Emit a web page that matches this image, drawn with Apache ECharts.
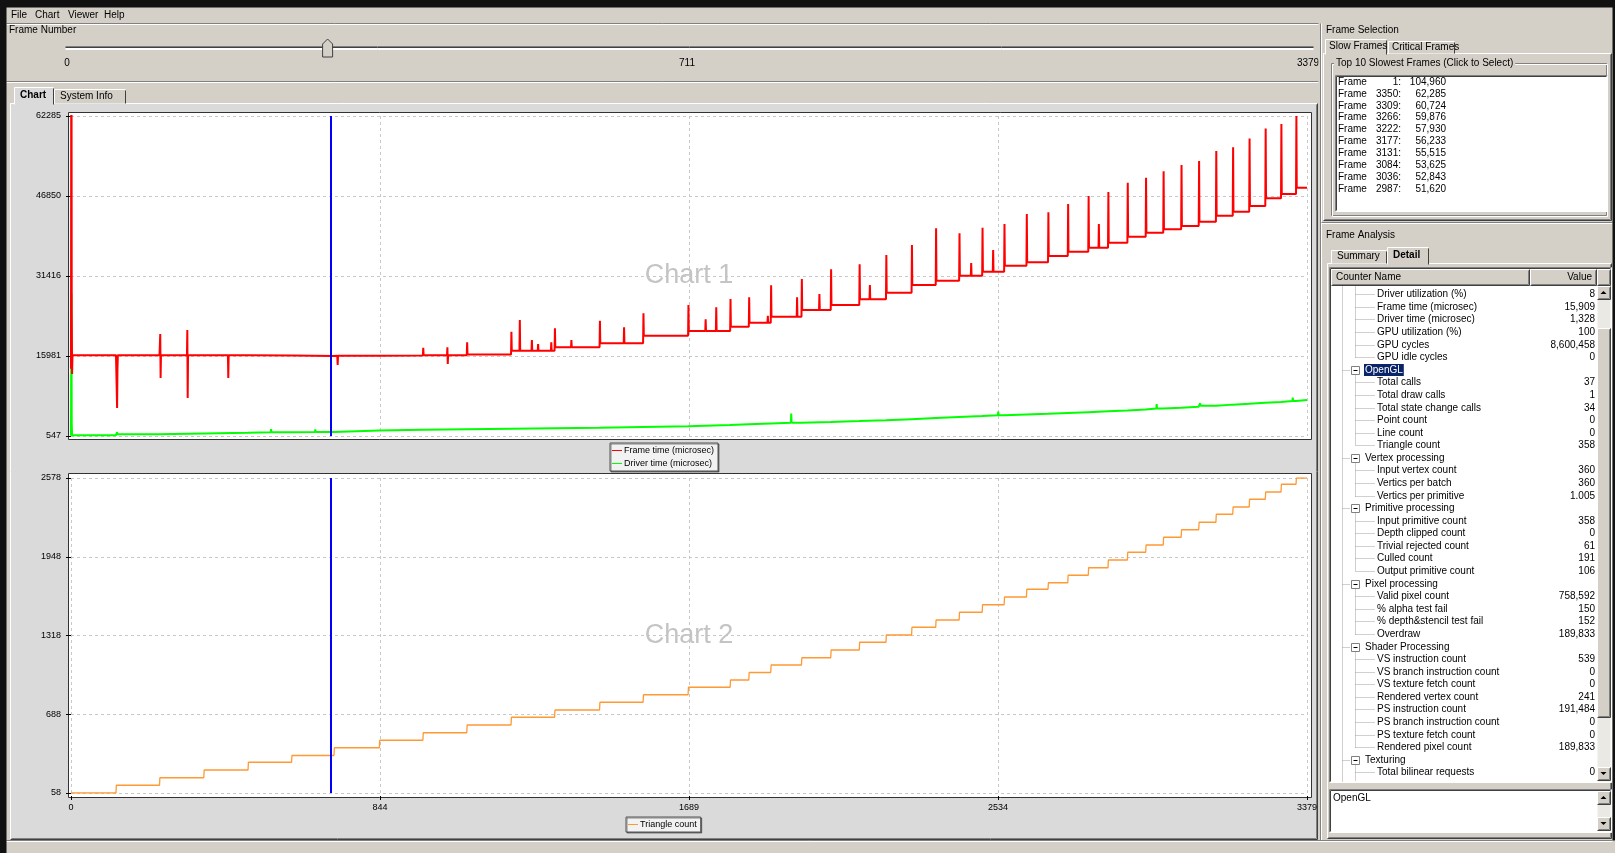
<!DOCTYPE html>
<html>
<head>
<meta charset="utf-8">
<title>Frame Analyzer</title>
<script src="https://cdn.jsdelivr.net/npm/echarts@6/dist/echarts.min.js"></script>
<style>
  html, body { margin: 0; padding: 0; background: #d4d0c8; }
  #main { width: 1615px; height: 853px; }
</style>
</head>
<body>
<div id="main"></div>
<script>
// ---- values ----
var lastFrame = 3379;
var selectedFrame = 711;

// frames where the triangle count steps up (frame time jumps there too)
var stepFrames = [0, 124, 243, 364, 485, 604, 720, 844, 963, 1083, 1204, 1323, 1446, 1565, 1688, 1803, 1854, 1914, 1998, 2078,
  2156, 2229, 2299, 2365, 2429, 2492, 2552, 2613, 2672, 2726, 2782, 2836, 2889, 2939, 2987, 3036, 3084, 3131, 3177, 3222,
  3266, 3309, 3350];
var triangleCounts = [58, 120, 180, 242, 304, 358, 420, 480, 540, 602, 664, 722, 784, 844, 904, 962, 1022, 1082, 1140, 1202,
  1264, 1322, 1384, 1442, 1504, 1564, 1626, 1688, 1740, 1800, 1860, 1922, 1984, 2042, 2104, 2164, 2224, 2288, 2346, 2408,
  2466, 2528, 2578];
var frameTimeLevels = [16150, 16150, 16150, 16150, 16100, 16000, 16050, 16100, 16150, 16250, 17000, 17660, 18430, 19900, 20800, 21630, 22400, 23560, 24850, 25820,
  26920, 28190, 29670, 30500, 31470, 32240, 33400, 34050, 35270, 36100, 36870, 37840, 38990, 39760, 40420, 41060, 41890, 43040, 43820, 44920,
  46400, 47230, 48440];
var driverTimeLevels = [700, 900, 1050, 1150, 1250, 1328, 1600, 1750, 1850, 1950, 2050, 2150, 2300, 2450, 2650, 2800, 2950, 3100, 3250, 3420,
  3600, 3800, 4000, 4200, 4400, 4550, 4700, 4850, 5000, 5150, 5300, 5450, 5650, 5850, 6000, 6200, 6400, 6600, 6750, 6950,
  7100, 7300, 7490];

// single frame spikes / dips
var frameSpikeFrames = [0, 1, 2, 3, 126, 127, 244, 245, 318, 319, 430, 729, 963, 1029, 1030, 1083, 1204, 1227, 1260, 1277,
  1313, 1323, 1368, 1446, 1512, 1565, 1688, 1735, 1764, 1803, 1854, 1905, 1914, 1985, 1998, 2046, 2078, 2156, 2184, 2229,
  2299, 2365, 2429, 2461, 2492, 2521, 2552, 2613, 2672, 2726, 2782, 2810, 2836, 2889, 2939, 2987, 3036, 3084, 3131, 3177,
  3222, 3266, 3309, 3350];
var frameSpikeValues = [13500, 104960, 25000, 12500, 5950, 13300, 20220, 11740, 20990, 7880, 11740, 14240, 17580, 17660, 14440, 18620, 20670, 22920, 19070, 18300,
  18620, 21320, 19070, 22790, 21520, 24220, 25820, 23060, 25370, 26980, 27300, 23750, 29620, 27300, 30830, 27940, 32700, 33670, 29670, 35460,
  37390, 40610, 39650, 33920, 40730, 36430, 41440, 43370, 43700, 45300, 46840, 41440, 47610, 49410, 50370, 51620, 52843, 53625, 55515, 56233,
  57930, 59876, 60724, 62285];
var driverSpikeFrames = [0, 1, 2, 126, 547, 668, 1969, 2535, 2968, 3087, 3340];
var driverSpikeValues = [600, 28000, 3000, 1300, 1900, 1800, 4900, 5230, 6720, 6900, 7930];

var slowFrameIds = [1, 3350, 3309, 3266, 3222, 3177, 3131, 3084, 3036, 2987];
var slowFrameTimes = ['104,960', '62,285', '60,724', '59,876', '57,930', '56,233', '55,515', '53,625', '52,843', '51,620'];

var counterNames = ['Driver utilization (%)', 'Frame time (microsec)', 'Driver time (microsec)', 'GPU utilization (%)', 'GPU cycles',
  'GPU idle cycles', 'OpenGL', 'Total calls', 'Total draw calls', 'Total state change calls', 'Point count', 'Line count',
  'Triangle count', 'Vertex processing', 'Input vertex count', 'Vertics per batch', 'Vertics per primitive', 'Primitive processing',
  'Input primitive count', 'Depth clipped count', 'Trivial rejected count', 'Culled count', 'Output primitive count', 'Pixel processing',
  'Valid pixel count', '% alpha test fail', '% depth&stencil test fail', 'Overdraw', 'Shader Processing', 'VS instruction count',
  'VS branch instruction count', 'VS texture fetch count', 'Rendered vertex count', 'PS instruction count', 'PS branch instruction count',
  'PS texture fetch count', 'Rendered pixel count', 'Texturing', 'Total bilinear requests'];
// null = group node
var counterValues = ['8', '15,909', '1,328', '100', '8,600,458', '0', null, '37', '1', '34', '0', '0', '358', null, '360', '360',
  '1.005', null, '358', '0', '61', '191', '106', null, '758,592', '150', '152', '189,833', null, '539', '0', '0', '241', '191,484',
  '0', '0', '189,833', null, '0'];

// levels per step segment, with spikes dropped in as single frames
function buildLine(levels, spikeF, spikeV) {
  var pts = [];
  for (var i = 0; i < stepFrames.length; i++) {
    var s = stepFrames[i];
    var e = i + 1 < stepFrames.length ? stepFrames[i + 1] : lastFrame + 1;
    var lvl = levels[i];
    var sp = [];
    for (var k = 0; k < spikeF.length; k++) {
      if (spikeF[k] >= s && spikeF[k] < e) sp.push([spikeF[k], spikeV[k]]);
    }
    sp.sort(function (a, b) { return a[0] - b[0]; });
    if (!sp.length || sp[0][0] !== s) pts.push([s, lvl]);
    for (var j = 0; j < sp.length; j++) {
      var f = sp[j][0];
      var prev = pts.length ? pts[pts.length - 1][0] : -1;
      if (f - 1 > prev) pts.push([f - 1, lvl]);
      pts.push(sp[j]);
      var next = sp[j + 1];
      if (f + 1 < e && !(next && next[0] === f + 1)) pts.push([f + 1, lvl]);
    }
    if (pts[pts.length - 1][0] < e - 1) pts.push([e - 1, lvl]);
  }
  return pts;
}

// ---- window chrome (graphic elements) ----
var FONT = '"Liberation Sans", Arial, sans-serif';
var G = [];
function box(x, y, w, h, fill, stroke, z) {
  G.push({ type: 'rect', z: z, silent: true, shape: { x: x + 0.5, y: y + 0.5, width: w, height: h },
    style: { fill: fill || 'none', stroke: stroke || null, lineWidth: 1 } });
}
function seg(x1, y1, x2, y2, color, z, dash) {
  G.push({ type: 'line', z: z, silent: true, shape: { x1: x1 + 0.5, y1: y1 + 0.5, x2: x2 + 0.5, y2: y2 + 0.5 },
    style: { stroke: color, lineWidth: 1, lineDash: dash || null } });
}
function label(x, y, str, z, opt) {
  opt = opt || {};
  G.push({ type: 'text', z: z, silent: true, x: x, y: y, style: {
    text: str, fill: opt.color || '#000',
    font: (opt.bold ? 'bold ' : '') + (opt.size || 10) + 'px ' + FONT,
    align: opt.align || 'left', verticalAlign: 'middle',
    backgroundColor: opt.bg || null, padding: opt.pad || 0 } });
}
function raised(x, y, w, h, z, fill) {
  if (fill) box(x, y, w, h, fill, null, z);
  seg(x, y, x + w, y, '#ffffff', z); seg(x, y, x, y + h, '#ffffff', z);
  seg(x, y + h, x + w, y + h, '#404040', z); seg(x + w, y, x + w, y + h, '#404040', z);
  seg(x + 1, y + h - 1, x + w - 1, y + h - 1, '#808080', z); seg(x + w - 1, y + 1, x + w - 1, y + h - 1, '#808080', z);
}
function sunken(x, y, w, h, z, fill) {
  if (fill) box(x, y, w, h, fill, null, z);
  seg(x, y, x + w, y, '#808080', z); seg(x, y, x, y + h, '#808080', z);
  seg(x + 1, y + 1, x + w - 1, y + 1, '#404040', z); seg(x + 1, y + 1, x + 1, y + h - 1, '#404040', z);
  seg(x, y + h, x + w, y + h, '#ffffff', z); seg(x + w, y, x + w, y + h, '#ffffff', z);
}
function arrow(cx, cy, up, z) {
  var d = up ? -1 : 1;
  G.push({ type: 'polygon', z: z, silent: true,
    shape: { points: [[cx - 3, cy - 1.5 * d], [cx + 3, cy - 1.5 * d], [cx, cy + 1.5 * d]] }, style: { fill: '#000' } });
}
function tab(x, y, w, h, fill, z) {
  box(x, y, w, h, fill, null, z);
  seg(x, y, x + w, y, '#ffffff', z); seg(x, y, x, y + h, '#ffffff', z);
  seg(x + w, y + 1, x + w, y + h, '#404040', z);
}

// left side
box(6, 23, 1312, 817, '#d4d0c8', null, -20);
seg(6, 23, 1318, 23, '#808080', -19); seg(6, 24, 1318, 24, '#ffffff', -19);
label(11, 15.5, 'File', -19); label(35, 15.5, 'Chart', -19); label(68, 15.5, 'Viewer', -19); label(104, 15.5, 'Help', -19);
label(9, 30.5, 'Frame Number', -19);
seg(65, 46, 1313, 46, '#808080', -19); seg(65, 47, 1313, 47, '#404040', -19);
seg(65, 48, 1313, 48, '#ffffff', -19); seg(65, 49, 1313, 49, '#ffffff', -19);
var thumbX = 65 + selectedFrame / lastFrame * 1248;
G.push({ type: 'polygon', z: -18, silent: true,
  shape: { points: [[thumbX - 5, 57], [thumbX - 5, 44], [thumbX, 39], [thumbX + 5, 44], [thumbX + 5, 57]] },
  style: { fill: '#d4d0c8', stroke: '#404040', lineWidth: 1 } });
label(67, 63.5, '0', -19, { align: 'center' });
label(687, 63.5, String(selectedFrame), -19, { align: 'center' });
label(1308, 63.5, String(lastFrame), -19, { align: 'center' });
seg(6, 81, 1318, 81, '#808080', -19); seg(6, 82, 1318, 82, '#ffffff', -19);

raised(10, 103, 1307, 736, -10, '#dadada');
tab(54, 89, 71, 14, '#d4d0c8', -9);
label(60, 96.5, 'System Info', -9);
tab(14, 87, 39, 17, '#dadada', -8);
label(20, 95.5, 'Chart', -8, { bold: true });

// plot frames
box(68, 112, 1243, 327, '#ffffff', '#333333', -5);
box(68, 473, 1243, 324, '#ffffff', '#333333', -5);
label(689, 276, 'Chart 1', 1, { size: 27, color: '#c4c4c4', align: 'center' });
label(689, 636, 'Chart 2', 1, { size: 27, color: '#c4c4c4', align: 'center' });

// right side
var ZR = 20;
box(1318, 23, 294, 817, '#d4d0c8', null, ZR);
seg(1320, 23, 1320, 840, '#808080', ZR); seg(1321, 23, 1321, 840, '#ffffff', ZR);
label(1326, 30.5, 'Frame Selection', ZR);
raised(1323, 53, 288, 167, ZR);
tab(1388, 41, 66, 12, '#d4d0c8', ZR);
label(1392, 47.5, 'Critical Frames', ZR);
tab(1325, 39, 61, 15, '#d4d0c8', ZR + 1);
label(1329, 46.5, 'Slow Frames', ZR + 1);
box(1331, 63, 275, 152, null, '#808080', ZR);
box(1332, 64, 275, 152, null, '#ffffff', ZR);
label(1334, 63.5, 'Top 10 Slowest Frames (Click to Select)', ZR + 1, { bg: '#d4d0c8', pad: [0, 2] });
sunken(1335, 75, 272, 136, ZR, '#ffffff');
for (var r = 0; r < slowFrameIds.length; r++) {
  var ly = 82 + r * 11.9;
  label(1338, ly, 'Frame', ZR + 1);
  label(1401, ly, slowFrameIds[r] + ':', ZR + 1, { align: 'right' });
  label(1446, ly, slowFrameTimes[r], ZR + 1, { align: 'right' });
}

seg(1321, 222, 1612, 222, '#808080', ZR); seg(1321, 223, 1612, 223, '#ffffff', ZR);
label(1326, 235, 'Frame Analysis', ZR);
raised(1327, 263, 284, 575, ZR);
tab(1331, 250, 55, 13, '#d4d0c8', ZR);
label(1337, 256.5, 'Summary', ZR);
tab(1387, 247, 41, 17, '#d4d0c8', ZR + 1);
label(1393, 255.5, 'Detail', ZR + 1, { bold: true });

sunken(1329, 267, 282, 515, ZR, '#ffffff');
raised(1331, 269, 198, 16, ZR + 1, '#d4d0c8');
raised(1530, 269, 66, 16, ZR + 1, '#d4d0c8');
raised(1597, 269, 13, 16, ZR + 1, '#d4d0c8');
label(1336, 277.5, 'Counter Name', ZR + 2);
label(1592, 277.5, 'Value', ZR + 2, { align: 'right' });

// tree rows
var rowY0 = 294.3, rowH = 12.58, tc = '#a0a0a0', dot = [1, 1];
seg(1342, 286, 1342, 781, tc, ZR + 1, dot);
var branchTop = 286, lastLeaf = null;
for (var i = 0; i < counterNames.length; i++) {
  var y = Math.round(rowY0 + i * rowH);
  if (counterValues[i] === null) {
    if (lastLeaf !== null) seg(1355, branchTop, 1355, lastLeaf, tc, ZR + 1, dot);
    seg(1342, y, 1350, y, tc, ZR + 1, dot);
    box(1351, y - 4, 8, 8, '#ffffff', '#808080', ZR + 2);
    seg(1353, y, 1357, y, '#000000', ZR + 3);
    if (counterNames[i] === 'OpenGL') {
      label(1364, y, counterNames[i], ZR + 2, { color: '#ffffff', bg: '#0a246a', pad: [1, 1] });
    } else {
      label(1365, y, counterNames[i], ZR + 2);
    }
    branchTop = y + 5;
    lastLeaf = null;
  } else {
    seg(1355, y, 1375, y, tc, ZR + 1, dot);
    label(1377, y, counterNames[i], ZR + 2);
    label(1595, y, counterValues[i], ZR + 2, { align: 'right' });
    lastLeaf = y;
  }
}
seg(1355, branchTop, 1355, 781, tc, ZR + 1, dot);

// tree scrollbar
box(1597, 286, 13, 495, '#ebe9e4', null, ZR + 2);
raised(1597, 286, 13, 13, ZR + 3, '#d4d0c8'); arrow(1603.5, 292.5, true, ZR + 4);
raised(1597, 328, 13, 389, ZR + 3, '#d4d0c8');
raised(1597, 767, 13, 13, ZR + 3, '#d4d0c8'); arrow(1603.5, 773.5, false, ZR + 4);

// description box
sunken(1329, 789, 282, 43, ZR, '#ffffff');
label(1333, 798, 'OpenGL', ZR + 1);
box(1597, 791, 13, 39, '#ebe9e4', null, ZR + 1);
raised(1597, 791, 13, 13, ZR + 2, '#d4d0c8'); arrow(1603.5, 797.5, true, ZR + 3);
raised(1597, 817, 13, 13, ZR + 2, '#d4d0c8'); arrow(1603.5, 823.5, false, ZR + 3);

// status bar and outer black edges
box(0, 840, 1615, 13, '#d4d0c8', null, 30);
seg(6, 840, 1612, 840, '#808080', 30); seg(6, 841, 1612, 841, '#ffffff', 30);
box(-1, -1, 1617, 8, '#111111', null, 31);
box(-1, -1, 7, 855, '#111111', null, 31);
box(1612, -1, 4, 841, '#111111', null, 31);

// ---- charts ----
var axisFont = { fontSize: 9, color: '#000', fontFamily: FONT };
var dashed = { show: true, lineStyle: { color: '#c8c8c8', type: [3, 3], width: 1 } };
var floorFmt = function (v) { return String(Math.floor(v + 1e-6)); };
var cursor = {
  silent: true, symbol: 'none', label: { show: false },
  lineStyle: { color: '#0000ff', width: 2, type: 'solid' },
  data: [{ xAxis: selectedFrame }]
};
var legendBox = {
  orient: 'vertical', icon: 'rect', itemWidth: 10, itemHeight: 1, itemGap: 4, padding: [3, 4, 3, 2],
  backgroundColor: '#f2f2f2', borderColor: '#555', borderWidth: 1,
  shadowColor: 'rgba(0,0,0,0.45)', shadowOffsetX: 1, shadowOffsetY: 1,
  textStyle: { fontSize: 9, color: '#000', fontFamily: FONT, padding: [0, 0, 0, -3] }
};

var option = {
  backgroundColor: '#d4d0c8',
  animation: false,
  textStyle: { fontFamily: FONT },
  grid: [
    { left: 71, top: 116, width: 1236, height: 320 },
    { left: 71, top: 478, width: 1236, height: 315 }
  ],
  xAxis: [
    { gridIndex: 0, type: 'value', min: 0, max: lastFrame, interval: lastFrame / 4,
      axisLine: { show: false }, axisTick: { show: false }, axisLabel: { show: false }, splitLine: dashed },
    { gridIndex: 1, type: 'value', min: 0, max: lastFrame, interval: lastFrame / 4, offset: 3,
      axisLine: { show: false }, axisTick: { show: true, length: 4, lineStyle: { color: '#000' } },
      axisLabel: Object.assign({ margin: 7, showMinLabel: true, showMaxLabel: true, formatter: floorFmt }, axisFont),
      splitLine: dashed }
  ],
  yAxis: [
    { gridIndex: 0, type: 'value', min: 547, max: 62285, interval: (62285 - 547) / 4, offset: 3,
      axisLine: { show: false }, axisTick: { show: true, length: 5, lineStyle: { color: '#000' } },
      axisLabel: Object.assign({ margin: 7, showMinLabel: true, showMaxLabel: true, formatter: floorFmt }, axisFont),
      splitLine: dashed },
    { gridIndex: 1, type: 'value', min: 58, max: 2578, interval: (2578 - 58) / 4, offset: 3,
      axisLine: { show: false }, axisTick: { show: true, length: 5, lineStyle: { color: '#000' } },
      axisLabel: Object.assign({ margin: 7, showMinLabel: true, showMaxLabel: true, formatter: floorFmt }, axisFont),
      splitLine: dashed }
  ],
  legend: [
    Object.assign({ data: ['Frame time (microsec)', 'Driver time (microsec)'], left: 610, top: 443 }, legendBox),
    Object.assign({ data: ['Triangle count'], left: 626, top: 817 }, legendBox)
  ],
  series: [
    { name: 'Frame time (microsec)', type: 'line', xAxisIndex: 0, yAxisIndex: 0, color: '#ff0000',
      showSymbol: false, symbol: 'none', lineStyle: { width: 2 }, z: 3,
      data: buildLine(frameTimeLevels, frameSpikeFrames, frameSpikeValues), markLine: cursor },
    { name: 'Driver time (microsec)', type: 'line', xAxisIndex: 0, yAxisIndex: 0, color: '#00ff00',
      showSymbol: false, symbol: 'none', lineStyle: { width: 2 }, z: 2,
      data: buildLine(driverTimeLevels, driverSpikeFrames, driverSpikeValues) },
    { name: 'Triangle count', type: 'line', xAxisIndex: 1, yAxisIndex: 1, color: '#ff9933',
      showSymbol: false, symbol: 'none', lineStyle: { width: 1.3 },
      data: buildLine(triangleCounts, [], []), markLine: cursor }
  ],
  graphic: { elements: G }
};

var chart = echarts.init(document.getElementById('main'));
chart.setOption(option);
</script>
</body>
</html>
